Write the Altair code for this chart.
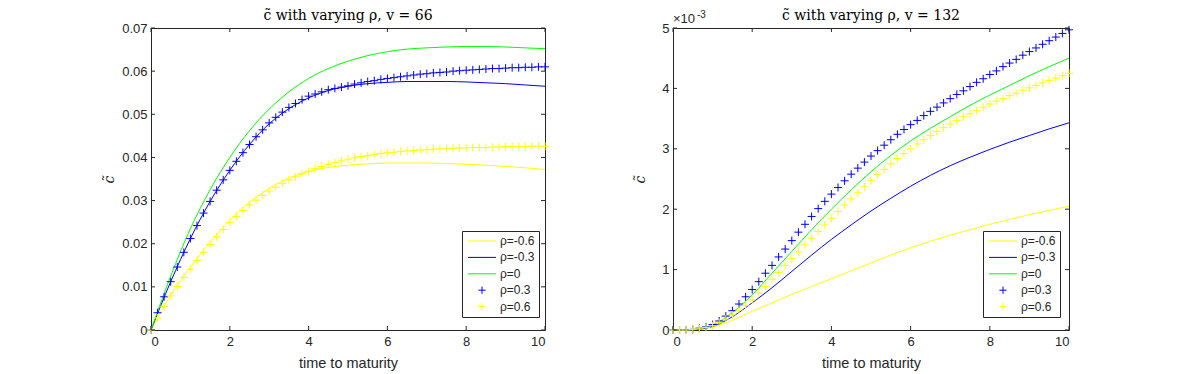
import altair as alt
import pandas as pd

# ---------------- data ----------------
series_names = ["ρ=-0.6", "ρ=-0.3", "ρ=0", "ρ=0.3", "ρ=0.6"]
series_colors = ["#FFFF00", "#0000FF", "#00FF00", "#0000FF", "#FFFF00"]

t_line = [0, 0.5, 1, 1.5, 2, 2.5, 3, 3.5, 4, 4.5, 5, 5.5, 6, 6.5, 7, 7.5, 8, 8.5, 9, 9.5, 10]
t_marker = [round(i / 6, 4) for i in range(61)]

# left panel, v = 66
left_m06 = [0, 0.0081, 0.0145, 0.0203, 0.0254, 0.0296, 0.0328, 0.0352, 0.0367, 0.0377, 0.0382,
            0.0385, 0.0387, 0.0387, 0.0387, 0.0386, 0.0384, 0.0382, 0.0379, 0.0376, 0.0372]
left_m03 = [0, 0.0112, 0.0212, 0.0298, 0.0370, 0.0430, 0.0478, 0.0513, 0.0538, 0.0555, 0.0565,
            0.0571, 0.0574, 0.0576, 0.0576, 0.0576, 0.0575, 0.0573, 0.0571, 0.0568, 0.0565]
left_0 = [0, 0.0125, 0.0235, 0.0325, 0.0400, 0.0462, 0.0512, 0.0552, 0.0583, 0.0606, 0.0623,
          0.0636, 0.0645, 0.0651, 0.0654, 0.0656, 0.0657, 0.0657, 0.0656, 0.0654, 0.0652]
left_p03 = [0, 0.0040, 0.0077, 0.0112, 0.0146, 0.0180, 0.0212, 0.0242, 0.0271, 0.0298,
            0.0324, 0.0348, 0.0370, 0.0391, 0.0411, 0.0430, 0.0448, 0.0464, 0.0480, 0.0493,
            0.0505, 0.0516, 0.0525, 0.0534, 0.0542, 0.0547, 0.0552, 0.0557, 0.0560, 0.0563,
            0.0566, 0.0570, 0.0573, 0.0576, 0.0578, 0.0581, 0.0583, 0.0585, 0.0587, 0.0589,
            0.0591, 0.0593, 0.0594, 0.0596, 0.0597, 0.0598, 0.0600, 0.0601, 0.0602, 0.0603,
            0.0604, 0.0605, 0.0606, 0.0606, 0.0607, 0.0608, 0.0608, 0.0609, 0.0609, 0.0610,
            0.0610]
left_p06 = [0, 0.0028, 0.0054, 0.0079, 0.0101, 0.0122, 0.0141, 0.0161, 0.0180, 0.0198,
            0.0216, 0.0233, 0.0249, 0.0263, 0.0277, 0.0290, 0.0301, 0.0312, 0.0322, 0.0331,
            0.0340, 0.0348, 0.0355, 0.0362, 0.0368, 0.0374, 0.0379, 0.0384, 0.0388, 0.0392,
            0.0396, 0.0399, 0.0402, 0.0404, 0.0407, 0.0409, 0.0411, 0.0412, 0.0414, 0.0415,
            0.0416, 0.0417, 0.0418, 0.0419, 0.0420, 0.0420, 0.0421, 0.0422, 0.0422, 0.0423,
            0.0423, 0.0423, 0.0424, 0.0424, 0.0425, 0.0425, 0.0425, 0.0425, 0.0426, 0.0426,
            0.0426]

# right panel, v = 132 (values in units of 1e-3)
right_m06 = [0, 0.005, 0.05, 0.16, 0.31, 0.45, 0.59, 0.72, 0.85, 0.98, 1.11,
             1.24, 1.36, 1.47, 1.57, 1.66, 1.75, 1.83, 1.91, 1.98, 2.05]
right_m03 = [0, 0.005, 0.06, 0.22, 0.45, 0.70, 0.97, 1.24, 1.50, 1.74, 1.97,
             2.18, 2.38, 2.56, 2.72, 2.86, 2.99, 3.11, 3.22, 3.33, 3.43]
right_0 = [0, 0.005, 0.08, 0.29, 0.58, 0.94, 1.30, 1.66, 2.00, 2.32, 2.62,
           2.89, 3.13, 3.34, 3.53, 3.72, 3.89, 4.05, 4.21, 4.36, 4.50]
right_p03 = [0, 0.0, 0.0, 0.01, 0.03, 0.05, 0.09, 0.15, 0.23, 0.32,
             0.43, 0.55, 0.67, 0.80, 0.94, 1.07, 1.21, 1.34, 1.48, 1.62,
             1.75, 1.88, 2.01, 2.13, 2.25, 2.36, 2.47, 2.58, 2.68, 2.78,
             2.88, 2.97, 3.06, 3.15, 3.24, 3.32, 3.40, 3.47, 3.55, 3.62,
             3.69, 3.76, 3.83, 3.90, 3.96, 4.03, 4.10, 4.16, 4.23, 4.29,
             4.36, 4.42, 4.48, 4.55, 4.61, 4.67, 4.73, 4.79, 4.85, 4.91,
             4.97]
right_p06 = [0, 0.0, 0.0, 0.01, 0.02, 0.04, 0.07, 0.12, 0.18, 0.25,
             0.33, 0.41, 0.50, 0.61, 0.72, 0.84, 0.95, 1.07, 1.18, 1.29,
             1.41, 1.52, 1.63, 1.74, 1.85, 1.96, 2.07, 2.17, 2.27, 2.37,
             2.47, 2.57, 2.66, 2.75, 2.84, 2.92, 3.00, 3.08, 3.15, 3.22,
             3.29, 3.35, 3.41, 3.47, 3.53, 3.58, 3.63, 3.69, 3.74, 3.79,
             3.83, 3.88, 3.92, 3.97, 4.01, 4.05, 4.09, 4.13, 4.17, 4.21,
             4.25]

x_ticks = [0, 2, 4, 6, 8, 10]
left_y_ticks = [0, 0.01, 0.02, 0.03, 0.04, 0.05, 0.06, 0.07]
right_y_ticks = [0, 0.001, 0.002, 0.003, 0.004, 0.005]

titles = ["c̃ with varying ρ, v = 66", "c̃ with varying ρ, v = 132"]

# ---------------- styling ----------------
SANS = "Liberation Sans"
SERIF = "DejaVu Serif"
AX = "#262626"
LINE_SYM = "M-3,0H3"
PLUS_SYM = "M-0.78,0H0.78M0,-0.78V0.78"
shape_range = [LINE_SYM, LINE_SYM, LINE_SYM, PLUS_SYM, PLUS_SYM]


def long_df(t, cols, names):
    rows = []
    for vals, n in zip(cols, names):
        for tt, v in zip(t, vals):
            rows.append({"t": tt, "c": v, "rho": n})
    return pd.DataFrame(rows)


def panel(lines, markers, y_ticks, ymax, title, label_expr, W, H, ytitle_x, exp_label, leg_x):
    line_df = long_df(t_line, lines, series_names[:3])
    mark_df = long_df(t_marker, markers, series_names[3:])

    legend = alt.Legend(title=None, orient="none", legendX=leg_x, legendY=203,
                        strokeColor=AX, fillColor="white", padding=4, cornerRadius=0,
                        symbolSize=87, symbolStrokeWidth=1, symbolOffset=10,
                        labelOffset=12, labelFont=SANS, labelFontSize=12,
                        labelColor=AX, rowPadding=4.4)
    color = alt.Color("rho:N", scale=alt.Scale(domain=series_names, range=series_colors),
                      legend=legend)
    shape = alt.Shape("rho:N", scale=alt.Scale(domain=series_names, range=shape_range),
                      legend=legend)
    xenc = alt.X("t:Q", scale=alt.Scale(domain=[0, 10], nice=False, zero=False),
                 axis=alt.Axis(values=x_ticks, title="time to maturity", format="d",
                               labelPadding=5, titleX=W / 2, titleY=33,
                               titleBaseline="middle", titleAlign="center",
                               grid=False, ticks=False,
                               domain=False, labelFont=SANS, labelFontSize=13,
                               labelColor=AX, titleFont=SANS, titleFontSize=14.5,
                               titleColor=AX, titleFontWeight="normal"))
    yenc = alt.Y("c:Q", scale=alt.Scale(domain=[0, ymax], nice=False),
                 axis=alt.Axis(values=y_ticks, title="c̃", labelExpr=label_expr,
                               labelPadding=4, titleX=ytitle_x, titleY=H / 2,
                               titleBaseline="middle", titleAlign="center", titleAngle=270,
                               grid=False,
                               ticks=False, domain=False, labelFont=SANS,
                               labelFontSize=13, labelColor=AX, titleFont=SERIF,
                               titleFontStyle="italic", titleFontSize=14,
                               titleColor=AX, titleFontWeight="normal"))

    line_layer = alt.Chart(line_df).mark_line(strokeWidth=1, interpolate="monotone").encode(
        x=xenc, y=yenc, color=color, shape=shape, detail="rho:N")
    point_layer = alt.Chart(mark_df).mark_point(filled=False, size=105, strokeWidth=1,
                                                opacity=1).encode(
        x=xenc, y=yenc, color=color, shape=shape)

    xt = pd.DataFrame({"t": x_ticks})
    yt = pd.DataFrame({"c": y_ticks})
    tick_b = alt.Chart(xt).mark_rule(color=AX, strokeWidth=1).encode(
        x="t:Q", y=alt.value(H), y2=alt.value(H - 4))
    tick_t = alt.Chart(xt).mark_rule(color=AX, strokeWidth=1).encode(
        x="t:Q", y=alt.value(0), y2=alt.value(4))
    tick_l = alt.Chart(yt).mark_rule(color=AX, strokeWidth=1).encode(
        y="c:Q", x=alt.value(0), x2=alt.value(4))
    tick_r = alt.Chart(yt).mark_rule(color=AX, strokeWidth=1).encode(
        y="c:Q", x=alt.value(W - 4), x2=alt.value(W))

    ttl = alt.Chart(pd.DataFrame({"s": [title]})).mark_text(
        align="center", baseline="alphabetic", font=SERIF, fontSize=14,
        color="black").encode(x=alt.value(W / 2), y=alt.value(-8), text="s:N")

    layers = [line_layer, point_layer, tick_b, tick_t, tick_l, tick_r, ttl]
    if exp_label:
        base = alt.Chart(pd.DataFrame({"s": ["×10"]})).mark_text(
            align="left", baseline="alphabetic", font=SANS, fontSize=13, color=AX).encode(
            x=alt.value(0), y=alt.value(-5), text="s:N")
        sup = alt.Chart(pd.DataFrame({"s": ["-3"]})).mark_text(
            align="left", baseline="alphabetic", font=SANS, fontSize=10, color=AX).encode(
            x=alt.value(24), y=alt.value(-10), text="s:N")
        layers += [base, sup]

    return alt.layer(*layers).properties(width=W, height=H)


left = panel([left_m06, left_m03, left_0], [left_p03, left_p06], left_y_ticks, 0.07,
             titles[0], "datum.value == 0 ? '0' : format(datum.value, '.2f')",
             394, 302, -42, False, 311)
right = panel([[v * 1e-3 for v in right_m06], [v * 1e-3 for v in right_m03],
               [v * 1e-3 for v in right_0]],
              [[v * 1e-3 for v in right_p03], [v * 1e-3 for v in right_p06]],
              right_y_ticks, 0.005, titles[1],
              "format(datum.value * 1000, '.0f')", 396, 302, -33, True, 310)

chart = alt.hconcat(left, right, spacing=128, bounds="flush").resolve_scale(
    x="independent", y="independent", color="independent", shape="independent"
).resolve_legend(color="independent", shape="independent").properties(
    padding={"left": 93, "top": 0, "right": 5, "bottom": 5}
).configure_view(stroke=AX, strokeWidth=1)

chart.save("out.html", embed_options={"renderer": "svg", "actions": False})
